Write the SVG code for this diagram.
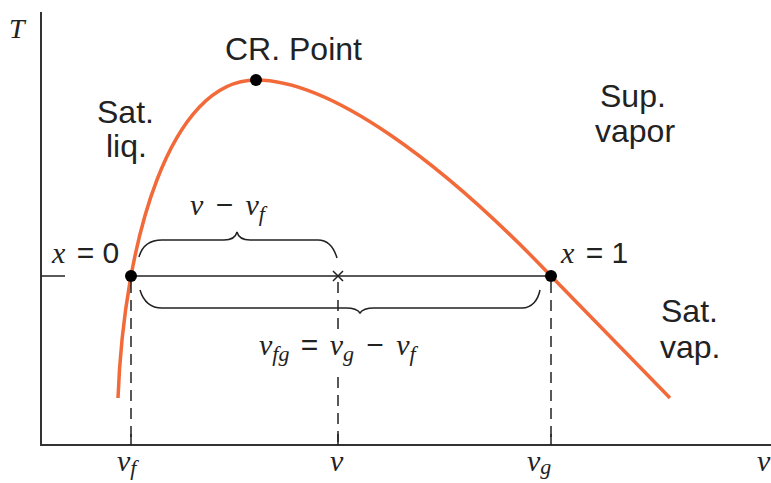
<svg xmlns="http://www.w3.org/2000/svg" width="771" height="483" viewBox="0 0 771 483">
<style>
.ax{stroke:#333;stroke-width:2;fill:none}
.ln{stroke:#222;stroke-width:1.5;fill:none}
.dash{stroke:#222;stroke-width:1.5;fill:none;stroke-dasharray:11,7}
.curve{stroke:#f26a3a;stroke-width:3.5;fill:none}
.lbl{font-family:"Liberation Sans",Arial,sans-serif;font-size:32px;fill:#222}
.m{font-family:"Liberation Serif","Times New Roman",serif;font-style:italic;font-size:30px;fill:#222}
.mr{font-family:"Liberation Sans",Arial,sans-serif;font-style:normal;font-size:30px}
.sub{font-size:22px}
</style>
<rect width="771" height="483" fill="#fff"/>
<g id="axes">
<path class="ax" d="M41,12 V445 H771"/>
<path class="ln" d="M41,276 H65"/>
<path class="ln" d="M131,445 V434 M338,445 V434 M551,445 V434"/>
<text class="m" x="9" y="38" style="font-size:28px">T</text>
<text class="m" x="117" y="471">v<tspan class="sub" dy="4">f</tspan></text>
<text class="m" x="330" y="471">v</text>
<text class="m" x="527" y="471">v<tspan class="sub" dy="3">g</tspan></text>
<text class="m" x="757" y="471">v</text>
</g>
<g id="curve">
<path class="curve" d="M118,398 C124,240 170,80 256,80 C330,80 440,160 551,276 L670,398"/>
</g>
<g id="connectors">
<path class="ln" d="M131,276 H551"/>
<path class="ln" d="M333,271 L343,281 M343,271 L333,281"/>
<path class="dash" d="M131,282 V445"/>
<path class="dash" d="M338,282 V329 M338,377 V445"/>
<path class="dash" d="M551,282 V445"/>
<path class="ln" d="M139,257 C142,246 150,240 162,240 H224 C232,240 236,236 237,232 C238,236 242,240 250,240 H318 C328,240 334,248 337,258"/>
<path class="ln" d="M140,290 C143,300 150,308 162,308 H346 C354,308 358,310 360,313 C362,310 366,308 374,308 H522 C532,308 538,300 540,290"/>
</g>
<g id="cr-point">
<circle cx="256" cy="80" r="6" fill="#000"/>
<text class="lbl" x="225" y="60">CR. Point</text>
</g>
<g id="x0">
<circle cx="131" cy="276" r="6" fill="#000"/>
<text class="m" x="52" y="263">x<tspan class="mr" dx="3"> = 0</tspan></text>
</g>
<g id="x1">
<circle cx="551" cy="276" r="6" fill="#000"/>
<text class="m" x="561" y="263">x<tspan class="mr" dx="3"> = 1</tspan></text>
</g>
<g id="sat-liq"><text class="lbl" x="97" y="123">Sat.</text><text class="lbl" x="106" y="157">liq.</text></g>
<g id="sup-vapor"><text class="lbl" x="600" y="107">Sup.</text><text class="lbl" x="595" y="142">vapor</text></g>
<g id="sat-vap"><text class="lbl" x="661" y="322">Sat.</text><text class="lbl" x="660" y="358">vap.</text></g>
<g id="labels">
<text class="m" x="190" y="215">v<tspan class="mr" dx="4"> − </tspan><tspan dx="4">v</tspan><tspan class="sub" dy="6">f</tspan></text>
<text class="m" x="259" y="355">v<tspan class="sub" dy="6">fg</tspan><tspan class="mr" dy="-6" dx="3"> = </tspan><tspan dx="3">v</tspan><tspan class="sub" dy="6">g</tspan><tspan class="mr" dy="-6" dx="4"> − </tspan><tspan dx="4">v</tspan><tspan class="sub" dy="6">f</tspan></text>
</g>
</svg>
